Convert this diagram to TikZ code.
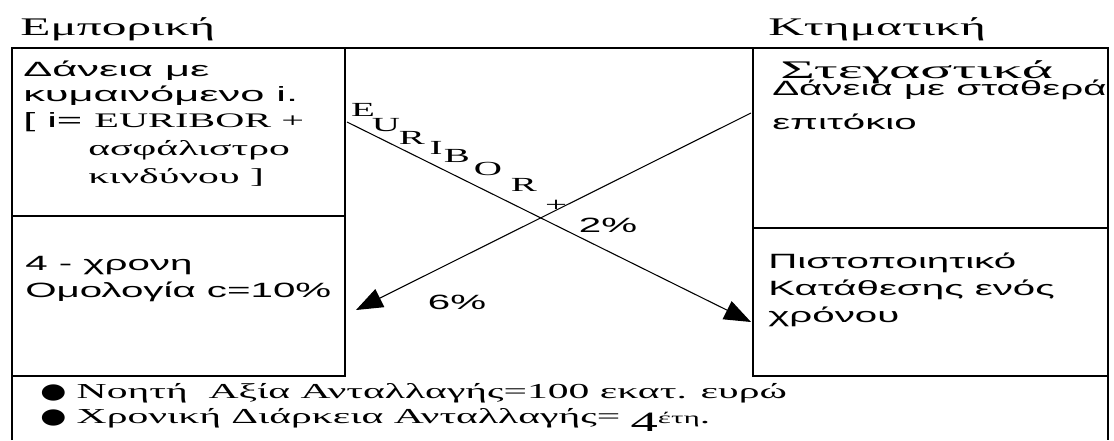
\documentclass[tikz,border=0pt]{standalone}
\usepackage{fontspec}
\usetikzlibrary{arrows.meta}
\newfontfamily\grsans[FakeStretch=1.95]{Liberation Sans}
\newfontfamily\grsanswide[FakeStretch=2.1]{Liberation Sans}
\newfontfamily\grserif[FakeStretch=1.95]{Liberation Serif}
\newfontfamily\grserifwide[FakeStretch=2.35]{Liberation Serif}
\newfontfamily\grdot[FakeStretch=1.4]{DejaVu Sans}

\begin{document}
\begin{tikzpicture}[x=0.75pt, y=-0.75pt,
  every node/.style={inner sep=0pt, anchor=base west},
  frame/.style={line width=1.5pt},
  flow/.style={line width=0.8pt, -{Triangle[length=20pt, width=15pt]}},
  title/.style={font=\grserif\fontsize{19}{22}\selectfont},
  body/.style={font=\grsans\fontsize{15.5}{19}\selectfont, align=left},
  serifbody/.style={font=\grserif\fontsize{16}{21}\selectfont, align=left},
  note/.style={font=\grserif\fontsize{16}{19}\selectfont, align=left},
  tag/.style={anchor=center, font=\grserif\fontsize{15}{15}\selectfont},
  rate/.style={anchor=center, font=\grsans\fontsize{15.5}{15.5}\selectfont}]
  \useasboundingbox (0,0) rectangle (1114,440);

  % outer frame and the four boxes
  \draw[frame] (12,440) -- (12,48) -- (1108,48) -- (1108,440);
  \draw[frame] (12,216) -- (345,216);
  \draw[frame] (12,376) -- (345,376) -- (345,48);
  \draw[frame] (753,48) -- (753,376) -- (1108,376);
  \draw[frame] (753,228) -- (1108,228);

  % headings
  \node[title] (commercial) at (20,35) {Εμπορική};
  \node[title] (mortgage) at (768,35) {Κτηματική};

  % left side (multi-line nodes sit on their last line)
  \node[body, font=\grsanswide\fontsize{15.5}{19}\selectfont] (floatloan) at (23,127)
  {Δάνεια με\\κυμαινόμενο i.\\{[} i= {\grserif EURIBOR +}};
  \node[serifbody] (premium) at (88,183) {ασφάλιστρο\\κινδύνου ]};
  \node[body, font=\grsans\fontsize{15.5}{20}\selectfont] (bond) at (25,297)
  {4 - χρονη\\Ομολογία c=10\%};

  % right side
  \node[title, font=\grserifwide\fontsize{19}{22}\selectfont] (housing) at (780,78) {Στεγαστικά};
  \node[body, font=\grsans\fontsize{15.5}{25}\selectfont] (fixloan) at (772,129)
  {Δάνεια με σταθερά\\επιτόκιο};
  \node[body, font=\grsans\fontsize{15.5}{20}\selectfont] (deposit) at (768,322)
  {Πιστοποιητικό\\Κατάθεσης ενός\\χρόνου};

  % swap flows
  \coordinate (floatout) at (347,122);
  \coordinate (depositin) at (751,322);
  \coordinate (fixout) at (751,113);
  \coordinate (bondin) at (356,310);
  \draw[flow] (floatout) -- (depositin);
  \draw[flow] (fixout) -- (bondin);

  % EURIBOR + 2% along the first flow
  \node[tag] (lE) at (363,110) {E};
  \node[tag] (lU) at (386,125) {U};
  \node[tag] (lR) at (412,138) {R};
  \node[tag] (lI) at (436,148) {I};
  \node[tag] (lB) at (457,156) {B};
  \node[tag] (lO) at (488,169) {O};
  \node[tag] (lR2) at (524,185) {R};
  \node[tag] (plus) at (556,206) {+};
  \node[rate] (spread) at (608,225) {2\%};
  \node[rate] (fixed) at (457,302) {6\%};

  % swap terms
  \node[note] (notional) at (40,398)
  {{\grdot ●} Νοητή \ Αξία Ανταλλαγής=100 εκατ. ευρώ};
  \node[note] (tenor) at (40,423)
  {{\grdot ●} Χρονική Διάρκεια Ανταλλαγής=
   \raisebox{-6pt}{\fontsize{21}{21}\selectfont 4}{\fontsize{12}{12}\selectfont έτη}.};
\end{tikzpicture}
\end{document}
